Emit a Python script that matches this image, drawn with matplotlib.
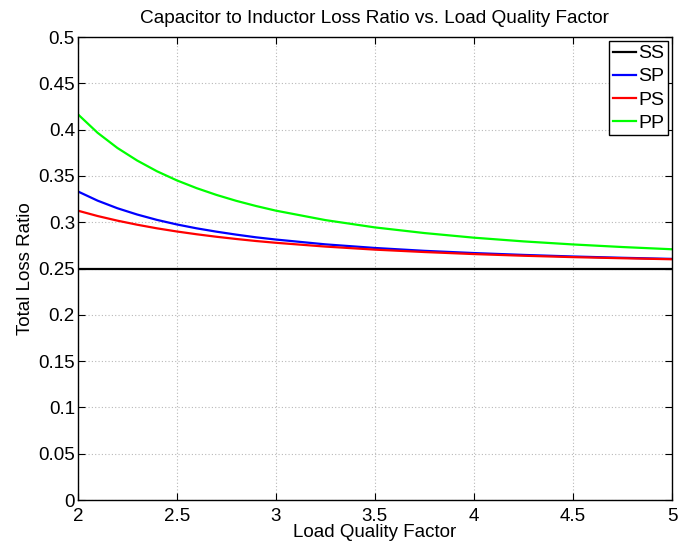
import matplotlib
matplotlib.use("Agg")
import matplotlib.pyplot as plt

plt.rcParams['font.family'] = ['Liberation Sans', 'DejaVu Sans']

q = [2.0, 2.1, 2.2, 2.3, 2.4, 2.5, 2.6, 2.7, 2.8, 2.9, 3.0,
     3.25, 3.5, 3.75, 4.0, 4.25, 4.5, 4.75, 5.0]
ss = [0.25] * len(q)
sp = [0.3333, 0.3233, 0.3151, 0.3083, 0.3025, 0.2976, 0.2934, 0.2898, 0.2866, 0.2837, 0.2813,
      0.2761, 0.2722, 0.2691, 0.2667, 0.2647, 0.2630, 0.2616, 0.2604]
ps = [0.3125, 0.3067, 0.3017, 0.2973, 0.2934, 0.2900, 0.2870, 0.2843, 0.2819, 0.2797, 0.2778,
      0.2737, 0.2704, 0.2678, 0.2656, 0.2638, 0.2623, 0.2611, 0.2600]
pp = [0.4167, 0.3966, 0.3802, 0.3666, 0.3550, 0.3452, 0.3368, 0.3295, 0.3231, 0.3175, 0.3125,
      0.3023, 0.2944, 0.2883, 0.2833, 0.2793, 0.2760, 0.2732, 0.2708]
labels = ['SS', 'SP', 'PS', 'PP']
colors = ['black', 'blue', 'red', '#00ff00']
xticks = [2, 2.5, 3, 3.5, 4, 4.5, 5]
xticklabels = ['2', '2.5', '3', '3.5', '4', '4.5', '5']
yticks = [0, 0.05, 0.1, 0.15, 0.2, 0.25, 0.3, 0.35, 0.4, 0.45, 0.5]
yticklabels = ['0', '0.05', '0.1', '0.15', '0.2', '0.25', '0.3', '0.35', '0.4', '0.45', '0.5']

fig = plt.figure(figsize=(6.78, 5.46), dpi=100)
ax = fig.add_axes([0.1147, 0.0842, 0.8765, 0.848])

for y, lab, c in zip([ss, sp, ps, pp], labels, colors):
    ax.plot(q, y, color=c, lw=1.6, label=lab)

ax.set_xlim(2, 5)
ax.set_ylim(0, 0.5)
ax.set_xticks(xticks)
ax.set_xticklabels(xticklabels)
ax.set_yticks(yticks)
ax.set_yticklabels(yticklabels)
ax.grid(True, color='#b8b8b8', linestyle=(0, (1, 2)), linewidth=0.8)
ax.tick_params(direction='in', top=True, right=True, labelsize=13.5, length=5, width=0.8)
ax.tick_params(axis='x', pad=6)
ax.tick_params(axis='y', pad=2)
for s in ax.spines.values():
    s.set_linewidth(1.0)

ax.set_title('Capacitor to Inductor Loss Ratio vs. Load Quality Factor', fontsize=13.7, pad=10)
ax.set_xlabel('Load Quality Factor', fontsize=13.5, labelpad=-1)
ax.set_ylabel('Total Loss Ratio', fontsize=13.5, labelpad=3)

leg = ax.legend(loc='upper right', fontsize=14, frameon=True, fancybox=False,
                edgecolor='black', handlelength=1.2, handletextpad=0.12,
                borderpad=0.2, labelspacing=0.28, borderaxespad=0.2, framealpha=1)
leg.get_frame().set_linewidth(1.0)

fig.savefig('out.png', dpi=100)
